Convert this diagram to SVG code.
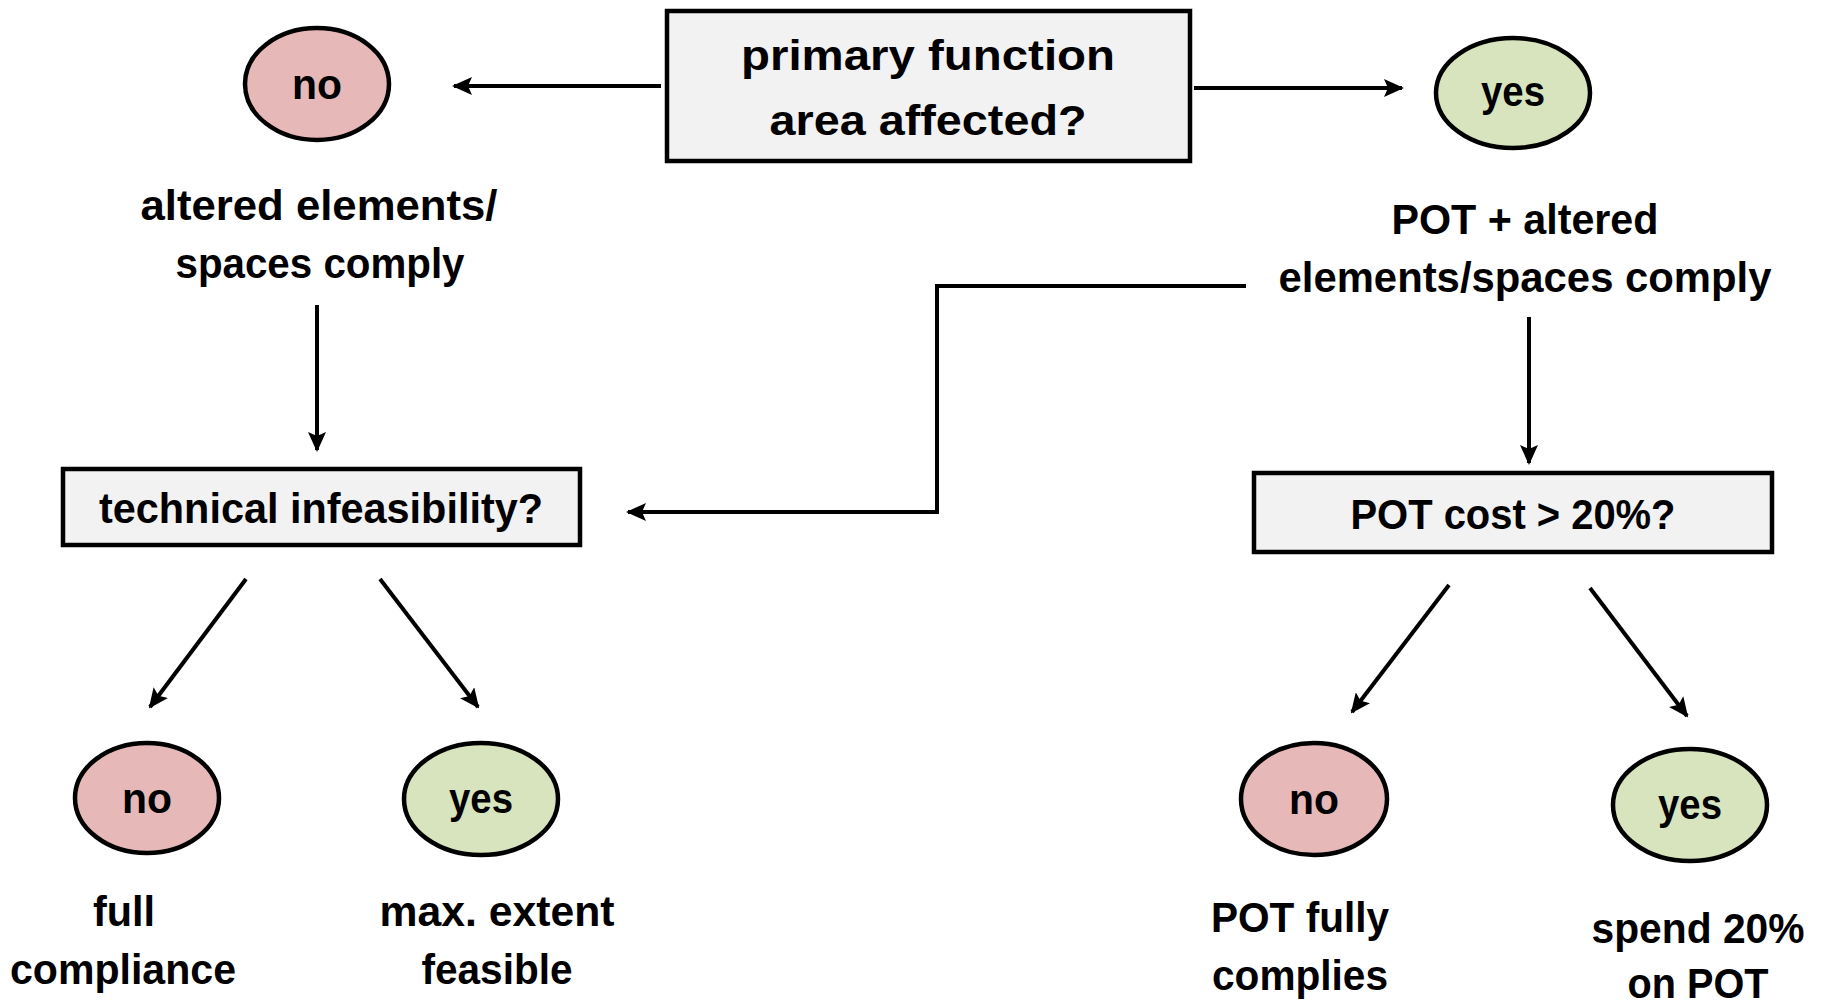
<svg xmlns="http://www.w3.org/2000/svg" width="1826" height="1001" viewBox="0 0 1826 1001">
<defs>
<style>
.box{fill:#f2f2f2;stroke:#000;stroke-width:4.5}
.no{fill:#e6b9b8;stroke:#000;stroke-width:4.5}
.yes{fill:#d7e4bd;stroke:#000;stroke-width:4.5}
.t{font-family:"Liberation Sans",Arial,sans-serif;font-weight:bold;font-size:43px;fill:#000;text-anchor:middle}
.c{fill:none;stroke:#000;stroke-width:4}
</style>
<marker id="ah" markerUnits="userSpaceOnUse" markerWidth="20" markerHeight="18" viewBox="0 0 20 18" refX="18" refY="9" orient="auto">
<path d="M0,0 L20,9 L0,18 L4,9 Z" fill="#000"/>
</marker>
</defs>
<rect width="1826" height="1001" fill="#fff"/>
<g id="connectors">
<line class="c" x1="661" y1="86" x2="454" y2="86" marker-end="url(#ah)"/>
<line class="c" x1="1194" y1="88" x2="1402" y2="88" marker-end="url(#ah)"/>
<line class="c" x1="317" y1="305" x2="317" y2="450" marker-end="url(#ah)"/>
<polyline class="c" points="1246,286 937,286 937,512 628,512" marker-end="url(#ah)"/>
<line class="c" x1="1529" y1="317" x2="1529" y2="463" marker-end="url(#ah)"/>
<line class="c" x1="246" y1="579" x2="150" y2="707" marker-end="url(#ah)"/>
<line class="c" x1="380" y1="579" x2="478" y2="707" marker-end="url(#ah)"/>
<line class="c" x1="1449" y1="585" x2="1352" y2="712" marker-end="url(#ah)"/>
<line class="c" x1="1590" y1="588" x2="1687" y2="716" marker-end="url(#ah)"/>
</g>
<g id="q-primary">
<rect class="box" x="667" y="11" width="523" height="150"/>
<text class="t" x="928" y="70" textLength="374" lengthAdjust="spacingAndGlyphs">primary function</text>
<text class="t" x="928" y="135" textLength="317" lengthAdjust="spacingAndGlyphs">area affected?</text>
</g>
<g id="no-top">
<ellipse class="no" cx="317" cy="84" rx="72" ry="56"/>
<text class="t" x="317" y="99" textLength="50" lengthAdjust="spacingAndGlyphs">no</text>
</g>
<g id="yes-top">
<ellipse class="yes" cx="1513" cy="93" rx="77" ry="55"/>
<text class="t" x="1513" y="106" textLength="64" lengthAdjust="spacingAndGlyphs">yes</text>
</g>
<g id="lbl-altered">
<text class="t" x="319" y="220" textLength="357" lengthAdjust="spacingAndGlyphs">altered elements/</text>
<text class="t" x="320" y="278" textLength="289" lengthAdjust="spacingAndGlyphs">spaces comply</text>
</g>
<g id="lbl-pot-altered">
<text class="t" x="1525" y="234" textLength="267" lengthAdjust="spacingAndGlyphs">POT + altered</text>
<text class="t" x="1525" y="292" textLength="493" lengthAdjust="spacingAndGlyphs">elements/spaces comply</text>
</g>
<g id="q-tech">
<rect class="box" x="63" y="469" width="517" height="76"/>
<text class="t" x="321" y="523" textLength="444" lengthAdjust="spacingAndGlyphs">technical infeasibility?</text>
</g>
<g id="q-cost">
<rect class="box" x="1254" y="473" width="518" height="79"/>
<text class="t" x="1513" y="529" textLength="325" lengthAdjust="spacingAndGlyphs">POT cost &gt; 20%?</text>
</g>
<g id="no-tech">
<ellipse class="no" cx="147" cy="798" rx="72" ry="55"/>
<text class="t" x="147" y="813" textLength="50" lengthAdjust="spacingAndGlyphs">no</text>
</g>
<g id="yes-tech">
<ellipse class="yes" cx="481" cy="799" rx="77" ry="56"/>
<text class="t" x="481" y="813" textLength="64" lengthAdjust="spacingAndGlyphs">yes</text>
</g>
<g id="no-cost">
<ellipse class="no" cx="1314" cy="799" rx="73" ry="56"/>
<text class="t" x="1314" y="814" textLength="50" lengthAdjust="spacingAndGlyphs">no</text>
</g>
<g id="yes-cost">
<ellipse class="yes" cx="1690" cy="805" rx="77" ry="56"/>
<text class="t" x="1690" y="819" textLength="64" lengthAdjust="spacingAndGlyphs">yes</text>
</g>
<g id="lbl-full">
<text class="t" x="124" y="926" textLength="62" lengthAdjust="spacingAndGlyphs">full</text>
<text class="t" x="123" y="984" textLength="226" lengthAdjust="spacingAndGlyphs">compliance</text>
</g>
<g id="lbl-max">
<text class="t" x="497" y="926" textLength="235" lengthAdjust="spacingAndGlyphs">max. extent</text>
<text class="t" x="497" y="984" textLength="151" lengthAdjust="spacingAndGlyphs">feasible</text>
</g>
<g id="lbl-pot-fully">
<text class="t" x="1300" y="932" textLength="178" lengthAdjust="spacingAndGlyphs">POT fully</text>
<text class="t" x="1300" y="990" textLength="176" lengthAdjust="spacingAndGlyphs">complies</text>
</g>
<g id="lbl-spend">
<text class="t" x="1698" y="943" textLength="213" lengthAdjust="spacingAndGlyphs">spend 20%</text>
<text class="t" x="1698" y="998" textLength="141" lengthAdjust="spacingAndGlyphs">on POT</text>
</g>
</svg>
